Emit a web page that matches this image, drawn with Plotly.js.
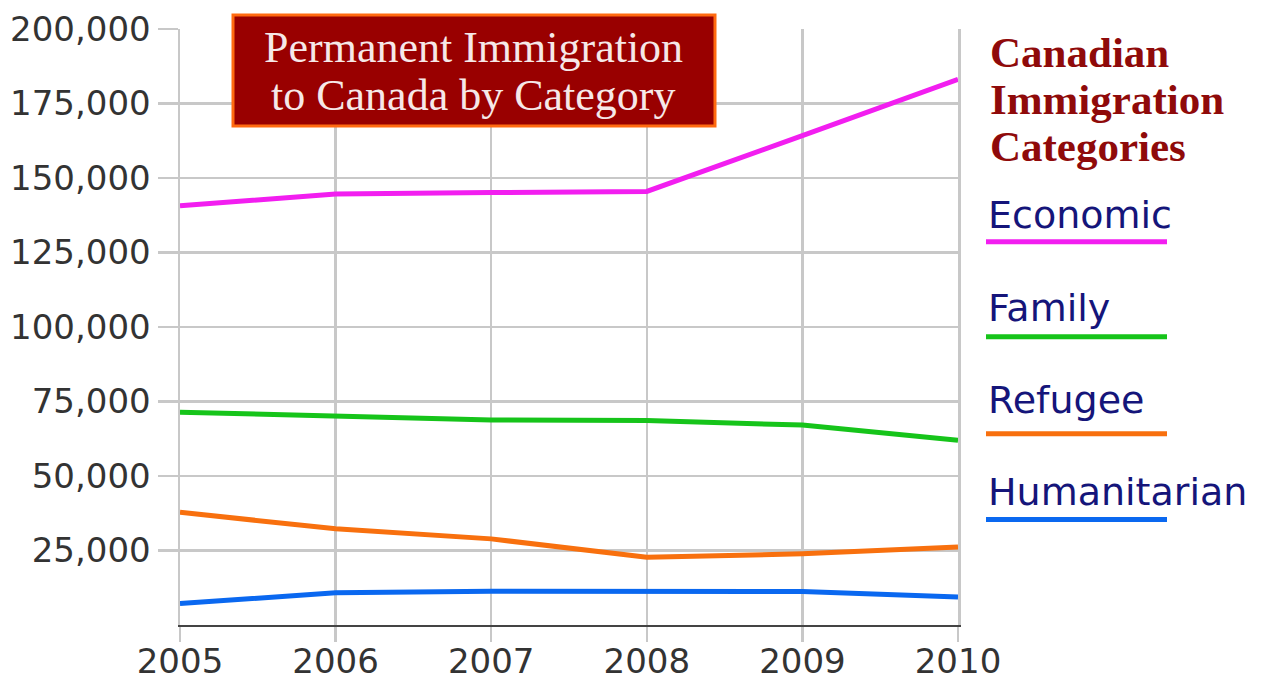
<!DOCTYPE html>
<html>
<head>
<meta charset="utf-8">
<script src="https://cdn.plot.ly/plotly-3.0.1.min.js"></script>
<style>html,body{margin:0;padding:0;background:#fff;}#chart{width:1263px;height:680px;}</style>
</head>
<body>
<div id="chart"></div>
<script>
const years = [2005, 2006, 2007, 2008, 2009, 2010];
const economic = [140700, 144600, 145100, 145500, 164200, 183100];
const family = [71400, 69900, 68800, 68600, 67100, 62000];
const refugee = [37800, 32300, 28900, 22700, 23900, 26200];
const humanitarian = [7200, 10800, 11300, 11200, 11200, 9400];
const seriesNames = ["Economic", "Family", "Refugee", "Humanitarian"];
const seriesColors = ["#f21ef0", "#16c41a", "#f8700e", "#0a68f0"];
const yTicks = [25000, 50000, 75000, 100000, 125000, 150000, 175000, 200000];
const titleLines = ["Permanent Immigration", "to Canada by Category"];
const legendHeader = ["Canadian", "Immigration", "Categories"];

const W = 1263, H = 680;
const L = 180, R = 958, T = 29, B = 625.5;
const px = x => (x - L) / (R - L);
const py = y => (B - y) / (B - T);

const allSeries = [economic, family, refugee, humanitarian];
const traces = allSeries.map((vals, i) => ({
  x: years, y: vals, type: 'scatter', mode: 'lines', name: seriesNames[i],
  line: {color: seriesColors[i], width: 5}, cliponaxis: false, hoverinfo: 'skip'
}));

const shapes = [];
const annotations = [];

// title box
shapes.push({type: 'rect', xref: 'paper', yref: 'paper', x0: px(233), x1: px(715), y0: py(126), y1: py(15),
  fillcolor: '#990000', line: {color: '#ff6a10', width: 3}, layer: 'above'});
const titleY = [48, 96];
titleLines.forEach((t, i) => annotations.push({
  xref: 'paper', yref: 'paper', x: px(473), y: py(titleY[i]), xanchor: 'center', yanchor: 'middle',
  text: t, showarrow: false, font: {family: 'Liberation Serif, Times New Roman, serif', size: 44, color: '#f6e8e8'}
}));

// legend header
const headY = [53, 100, 147];
legendHeader.forEach((t, i) => annotations.push({
  xref: 'paper', yref: 'paper', x: px(988), y: py(headY[i]), xanchor: 'left', yanchor: 'middle',
  text: '<b>' + t + '</b>', showarrow: false, font: {family: 'Liberation Serif, Times New Roman, serif', size: 43, color: '#8f0a0a'}
}));

// legend items
const itemTextY = [215, 308, 400, 492];
const itemLineY = [242, 337, 434, 520];
seriesNames.forEach((n, i) => {
  annotations.push({
    xref: 'paper', yref: 'paper', x: px(986), y: py(itemTextY[i]), xanchor: 'left', yanchor: 'middle',
    text: n, showarrow: false, font: {family: 'DejaVu Sans, sans-serif', size: 38, color: '#15157a'}
  });
  shapes.push({type: 'line', xref: 'paper', yref: 'paper', x0: px(986), x1: px(1167), y0: py(itemLineY[i]), y1: py(itemLineY[i]),
    line: {color: seriesColors[i], width: 5}});
});

const layout = {
  width: W, height: H,
  margin: {l: L, r: W - R, t: T, b: H - B, pad: 0},
  paper_bgcolor: '#ffffff', plot_bgcolor: '#ffffff',
  showlegend: false,
  xaxis: {
    range: [2005, 2010], tickvals: years, ticktext: years.map(String),
    showgrid: true, gridcolor: '#c8c8c8', gridwidth: 2.5,
    ticks: 'outside', ticklen: 15, tickwidth: 2.5, tickcolor: '#c8c8c8',
    ticklabelstandoff: -10,
    showline: true, linecolor: '#444444', linewidth: 2,
    zeroline: false, fixedrange: true,
    tickfont: {family: 'DejaVu Sans, sans-serif', size: 34, color: '#333333'}
  },
  yaxis: {
    range: [0, 200000], tickvals: yTicks, tickformat: ',d',
    showgrid: true, gridcolor: '#c8c8c8', gridwidth: 2.5,
    ticks: 'outside', ticklen: 20, tickwidth: 2.5, tickcolor: '#c8c8c8',
    showline: true, linecolor: '#c8c8c8', linewidth: 2.5, mirror: true,
    zeroline: false, fixedrange: true,
    tickfont: {family: 'DejaVu Sans, sans-serif', size: 34, color: '#333333'}
  },
  shapes: shapes,
  annotations: annotations
};

Plotly.newPlot('chart', traces, layout, {displayModeBar: false, staticPlot: true});
</script>
</body>
</html>
